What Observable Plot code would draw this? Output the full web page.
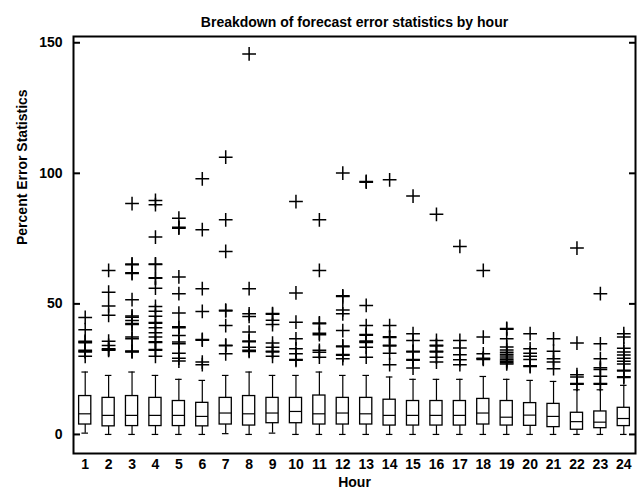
<!DOCTYPE html>
<html><head><meta charset="utf-8">
<script src="https://cdn.jsdelivr.net/npm/d3@7"></script>
<script src="https://cdn.jsdelivr.net/npm/@observablehq/plot@0.6"></script>
<style>body{margin:0;background:#fff} svg{font-family:"Liberation Sans",Arial,sans-serif;font-weight:bold}</style>
</head><body><div id="chart"></div><script>
const title = "Breakdown of forecast error statistics by hour";
const xLabel = "Hour";
const yLabel = "Percent Error Statistics";
const hours = [1,2,3,4,5,6,7,8,9,10,11,12,13,14,15,16,17,18,19,20,21,22,23,24];
const yTicks = [0,50,100,150];
const q3 = [14.7,14.0,14.7,14.0,12.8,12.1,14.0,14.7,14.0,14.0,14.9,14.0,14.0,13.3,12.8,12.8,12.8,13.6,12.8,12.0,11.7,8.3,8.8,10.2];
const median = [7.9,7.3,7.3,7.3,7.3,6.9,8.2,7.9,8.2,8.8,7.9,8.2,7.9,7.3,7.3,7.3,7.3,8.2,6.6,7.4,6.9,4.9,4.7,6.1];
const q1 = [3.8,3.1,3.2,3.2,3.2,3.1,3.8,3.4,4.3,4.3,3.8,3.8,3.8,3.4,3.4,3.4,3.4,3.8,3.4,3.3,2.8,1.8,2.4,3.2];
const whiskerHigh = [23.9,22.6,23.9,22.6,21.1,20.7,22.6,23.9,22.6,22.6,23.9,22.6,22.6,22.0,21.1,21.1,21.1,22.2,21.1,20.7,20.3,17.1,17.1,18.8];
const whiskerLow = [0.5,0,0,0,0,0,0.3,0,0.5,0,0,0,0,0,0,0,0,0,0,0,0,0,0,0];
const outliers = [
  [29.9,31.6,31.9,32.2,35.1,35.4,35.7,40.1,44.8],
  [32.2,32.5,32.8,34.1,35.7,45.6,49.2,54.5,62.8],
  [31.6,31.8,32.0,36.6,37.3,42.1,42.5,43.6,44.9,45.4,51.6,61.6,61.9,65.0,65.3,88.4],
  [29.9,32.2,32.5,35.2,35.5,37.3,38.9,40.9,42.6,42.9,45.3,47.2,49.0,56.0,59.8,60.0,65.1,65.3,75.6,88.0,89.6],
  [28.1,29.2,31.1,34.7,35.4,37.9,40.9,41.2,46.5,53.9,60.3,79.0,79.3,82.8],
  [26.7,27.7,36.1,36.4,47.1,55.8,78.4,97.9],
  [30.9,34.0,34.2,41.7,47.3,47.6,70.1,82.2,106.2],
  [31.8,32.2,33.4,35.5,35.8,39.2,45.2,46.2,55.8,145.7],
  [29.9,31.6,31.9,33.4,35.0,42.1,43.7,46.0,46.3],
  [28.4,28.7,30.9,32.8,36.6,43.0,54.2,89.2],
  [29.6,31.5,32.2,38.2,38.8,42.4,42.7,62.8,82.2],
  [29.0,30.3,30.6,33.6,33.9,39.8,46.2,47.7,52.8,53.1,100.1],
  [29.6,33.4,35.2,35.5,35.8,38.0,38.3,41.7,49.4,96.6,96.9],
  [26.7,31.1,33.9,34.2,37.1,37.4,41.7,97.5],
  [25.4,28.4,28.7,31.6,31.9,36.0,38.6,91.3],
  [27.7,29.6,31.6,31.9,33.9,34.2,36.0,84.3],
  [26.7,28.6,30.5,33.1,36.0,72.0],
  [28.7,29.0,29.2,30.9,37.3,62.8],
  [27.0,27.5,28.0,28.6,29.3,30.0,30.7,31.5,32.3,33.5,36.6,40.3,40.6],
  [26.0,26.3,28.7,29.9,31.1,32.8,38.6],
  [25.2,27.7,29.0,31.9,36.6],
  [19.2,19.5,22.0,22.9,35.0,71.4],
  [19.2,19.5,22.3,24.9,25.5,29.0,34.7,53.9],
  [21.8,22.1,24.3,24.6,27.0,28.0,29.2,30.4,31.6,33.0,37.3,38.6]
];

const boxes = hours.map((h, i) => ({hour: h, q1: q1[i], med: median[i], q3: q3[i], lo: whiskerLow[i], hi: whiskerHigh[i]}));
const outl = hours.flatMap((h, i) => outliers[i].map(v => ({hour: h, value: v})));
const bw = 0.26, cw = 0.14;
const font = {fontSize: 14, fontWeight: "bold", fill: "black"};

const plot = Plot.plot({
  width: 639, height: 492,
  marginLeft: 73, marginRight: 4, marginTop: 36, marginBottom: 39,
  style: {fontFamily: '"Liberation Sans", Arial, sans-serif', fontSize: "14px", fontWeight: "bold", color: "black", background: "white"},
  x: {domain: [0.5, 24.5], label: null},
  y: {domain: [-7.3, 152.4], label: null},
  marks: [
    Plot.ruleX(boxes, {x: "hour", y1: "lo", y2: "q1", stroke: "black", strokeWidth: 1.2}),
    Plot.ruleX(boxes, {x: "hour", y1: "q3", y2: "hi", stroke: "black", strokeWidth: 1.2}),
    Plot.ruleY(boxes, {y: "lo", x1: d => d.hour - cw, x2: d => d.hour + cw, stroke: "black", strokeWidth: 1.2}),
    Plot.ruleY(boxes, {y: "hi", x1: d => d.hour - cw, x2: d => d.hour + cw, stroke: "black", strokeWidth: 1.2}),
    Plot.rect(boxes, {x1: d => d.hour - bw, x2: d => d.hour + bw, y1: "q1", y2: "q3", fill: "white", stroke: "black", strokeWidth: 1.3}),
    Plot.ruleY(boxes, {y: "med", x1: d => d.hour - bw, x2: d => d.hour + bw, stroke: "black", strokeWidth: 1.2}),
    Plot.dot(outl, {x: "hour", y: "value", symbol: "plus", r: 4.5, stroke: "black", strokeWidth: 1.5}),
    Plot.frame({stroke: "black", strokeWidth: 2}),
    Plot.axisY({anchor: "left", ticks: yTicks, tickSize: -7, tickPadding: 18, strokeWidth: 2, fontSize: 14, label: null}),
    Plot.axisY({anchor: "right", ticks: yTicks, tickSize: -7, tickFormat: () => "", strokeWidth: 2, label: null}),
    Plot.axisX({ticks: hours, tickSize: 0, tickPadding: 6, fontSize: 14, label: null}),
    Plot.text([title], {frameAnchor: "top", dy: -19, ...font, text: d => d}),
    Plot.text([xLabel], {frameAnchor: "bottom", dy: 33, ...font, text: d => d}),
    Plot.text([yLabel], {frameAnchor: "left", dx: -51, rotate: -90, ...font, text: d => d})
  ]
});
document.getElementById("chart").appendChild(plot);
</script></body></html>
